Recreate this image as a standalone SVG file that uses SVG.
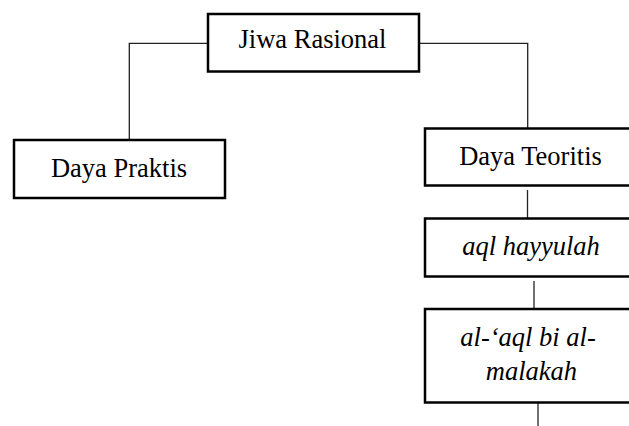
<svg xmlns="http://www.w3.org/2000/svg" width="629" height="426" viewBox="0 0 629 426">
<style>
.box{fill:#fff;stroke:#000;stroke-width:2.5}
.t{font-family:"Liberation Serif","Times New Roman",serif;font-size:26.5px;fill:#000;text-anchor:middle}
.i{font-style:italic}
.c{fill:none;stroke:#222;stroke-width:1.3}
</style>
<rect width="629" height="426" fill="#fff"/>
<g id="connectors">
<polyline class="c" points="208,43.3 129.3,43.3 129.3,140"/>
<polyline class="c" points="419,43.3 527.7,43.3 527.7,128.5"/>
<line class="c" x1="527.5" y1="190" x2="527.5" y2="222"/>
<line class="c" x1="534" y1="281" x2="534" y2="309"/>
<line class="c" x1="538" y1="402.5" x2="538" y2="426"/>
</g>
<g id="jiwa-rasional">
<rect class="box" x="208" y="14" width="211" height="57.5"/>
<text class="t" x="312.5" y="48">Jiwa Rasional</text>
</g>
<g id="daya-praktis">
<rect class="box" x="14" y="140" width="211" height="58"/>
<text class="t" x="119" y="176.5">Daya Praktis</text>
</g>
<g id="daya-teoritis">
<rect class="box" x="425" y="128.5" width="220" height="57"/>
<text class="t" x="530.5" y="165">Daya Teoritis</text>
</g>
<g id="aql-hayyulah">
<rect class="box" x="425" y="218.5" width="220" height="58"/>
<text class="t i" x="531" y="255">aql hayyulah</text>
</g>
<g id="al-aql-bi-al-malakah">
<rect class="box" x="425" y="309" width="220" height="93.5"/>
<text class="t i" x="528" y="346">al-‘aql bi al-</text>
<text class="t i" x="531.5" y="380">malakah</text>
</g>
</svg>
